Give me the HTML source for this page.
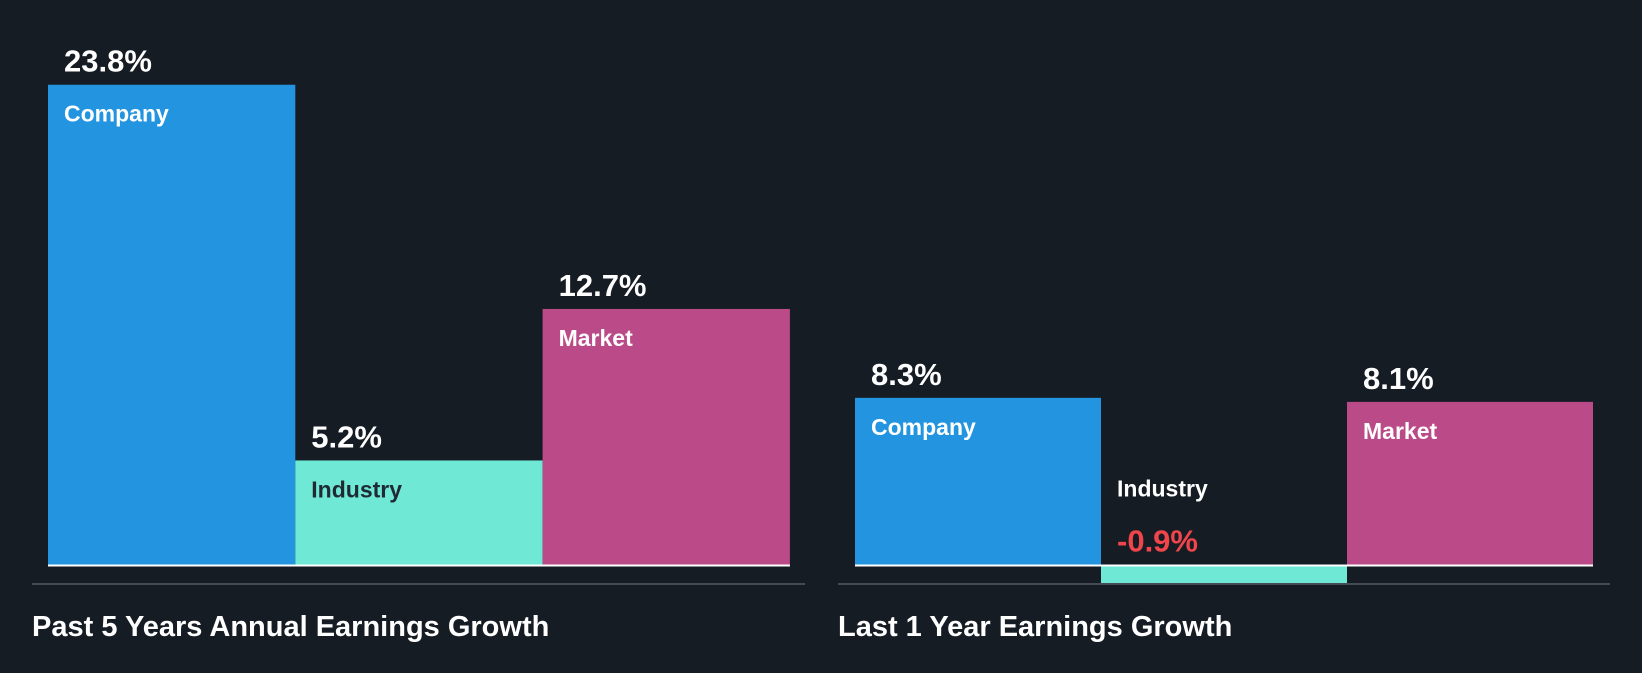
<!DOCTYPE html>
<html><head><meta charset="utf-8"><style>
body{margin:0;background:#161c24;width:1642px;height:668px;overflow:hidden;font-family:"Liberation Sans",sans-serif}
</style></head><body>
<svg width="1642" height="668" id="c">
<text x="32" y="636" fill="#fff" font-size="29" font-weight="bold">Past 5 Years Annual Earnings Growth</text>
<text x="838" y="636" fill="#fff" font-size="29" font-weight="bold">Last 1 Year Earnings Growth</text>
</svg>
<script>
const categories=["Company","Industry","Market"];
const past5Values=[23.8,5.2,12.7];
const last1Values=[8.3,-0.9,8.1];
const colors=["#2394e0","#6fe8d6","#bb4b88"];
const svg=document.getElementById('c');
const NS="http://www.w3.org/2000/svg";
const base=565.5, scale=20.2;
function y(v){return base-v*scale;}
function mk(tag,attrs){const e=document.createElementNS(NS,tag);for(const k in attrs)e.setAttribute(k,attrs[k]);svg.appendChild(e);return e;}
function panel(vals,x0,bw,lx0,lx1,key){
  vals.forEach((v,i)=>{
    const x=x0+i*bw;
    const r=mk('rect',{x:x,y:Math.min(y(v),base),width:bw,height:Math.abs(y(v)-base),fill:colors[i]});
    
    
    const neg=v<0;
    const top=Math.min(y(v),base);
    const vt=mk('text',{x:x+16,y:neg?base-14:top-13,fill:neg?'#f0454a':'#fff','font-size':31,'font-weight':'bold'});
    vt.textContent=v.toFixed(1)+'%';
    
    
    const ct=mk('text',{x:x+16,y:neg?base-69:top+37,fill:i==1?'#1f2a33':'#fff','font-size':23,'font-weight':'bold'});
    if(neg)ct.setAttribute('fill','#fff');
    ct.textContent=categories[i];
    
    
  });
  const bl=mk('rect',{x:x0,y:base-1,width:bw*3,height:2,fill:'#fff'});
  
  
  const ax=mk('rect',{x:lx0,y:583,width:lx1-lx0,height:2,fill:'#444b55'});
  
  
}
panel(past5Values,48,247.3,32,805,'past5');
panel(last1Values,855,246,838,1610,'last1');
</script>
</body></html>
